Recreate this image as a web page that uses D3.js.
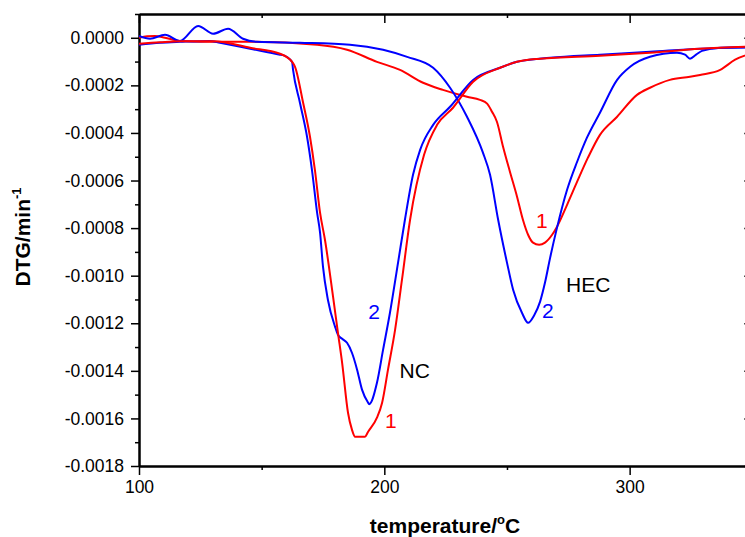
<!DOCTYPE html>
<html lang="en">
<head>
    <meta charset="UTF-8">
    <title>DTG curves</title>
    <script type="text/javascript" src="https://cdn.jsdelivr.net/npm/d3@7/dist/d3.min.js"></script>
    <style>
        body { margin: 0; background: #fff; }
        svg { display: block; font-family: "Liberation Sans", Arial, sans-serif; }
        .curve { fill: none; stroke-width: 2; }
        .axis path, .axis line { stroke: #000; }
        .axis path { stroke-width: 2; }
        .axis line { stroke-width: 1.5; }
        .axis text { font-size: 17.5px; fill: #000; font-family: "Liberation Sans", Arial, sans-serif; }
    </style>
</head>
<body>
    <svg width="745" height="537"></svg>
    <script type="text/javascript">
        // temperature (°C) and DTG values (in units of 1e-4 /min)
        var nc1T = [100, 108.6, 116.7, 130.2, 145.3, 157.5, 162.4, 163.6, 166.9, 169.7, 171.7, 173.8, 175.8, 179.1, 181.1, 182.8, 185.2, 186.8, 188.1, 192.1, 193.4, 197.0, 199.1, 201.5, 204.4, 207.2, 210.5, 216.2, 221.5, 228.0, 236.2, 247.2, 254.1, 263.5, 287.9, 308.3, 328.7, 350];
        var nc1V = [-0.25, -0.19, -0.15, -0.15, -0.42, -0.67, -1.01, -1.22, -2.73, -4.16, -5.55, -7.35, -8.49, -10.88, -12.40, -13.66, -15.76, -16.47, -16.77, -16.77, -16.56, -15.97, -15.34, -13.95, -12.27, -10.17, -7.65, -4.92, -3.66, -2.94, -1.85, -1.26, -1.01, -0.88, -0.76, -0.63, -0.46, -0.37];

        var nc2T = [100, 108.6, 116.7, 128.9, 133.0, 145.3, 157.5, 158.7, 162.4, 162.8, 165.6, 168.5, 170.5, 172.6, 173.8, 175.0, 177.0, 179.9, 181.1, 182.8, 184.8, 186.8, 188.9, 190.9, 193.4, 193.8, 197.0, 199.5, 202.3, 205.6, 208.4, 211.7, 214.6, 219.9, 226.8, 236.2, 247.2, 254.1, 267.6, 287.9, 308.3, 328.7, 350];
        var nc2V = [-0.29, -0.21, -0.17, -0.13, -0.21, -0.46, -0.71, -0.73, -1.01, -1.35, -2.73, -4.16, -5.55, -7.35, -8.19, -9.62, -11.01, -12.14, -12.48, -12.65, -12.82, -13.24, -13.95, -14.79, -15.34, -15.40, -14.50, -13.11, -11.56, -9.45, -7.65, -5.76, -4.71, -3.66, -2.90, -1.77, -1.26, -1.01, -0.84, -0.71, -0.59, -0.46, -0.40];

        var hec1T = [100, 103.3, 106.5, 110.6, 116.7, 133.0, 145.3, 172.6, 184.8, 197.0, 206.4, 215.8, 223.9, 233.7, 239.0, 241.9, 243.9, 245.9, 248.4, 251.2, 254.1, 256.5, 258.6, 260.6, 263.1, 265.5, 268.4, 270.4, 274.5, 278.6, 283.0, 287.9, 294.9, 303.0, 308.3, 316.4, 324.6, 328.7, 336.9, 343.0, 350];
        var hec1V = [0, 0.06, 0.08, 0, -0.13, -0.17, -0.17, -0.29, -0.50, -1.01, -1.35, -1.89, -2.19, -2.48, -2.61, -2.77, -3.11, -3.53, -4.58, -5.63, -6.68, -7.65, -8.28, -8.61, -8.70, -8.61, -8.28, -7.94, -7.02, -6.05, -5.04, -4.08, -3.32, -2.40, -2.10, -1.77, -1.64, -1.56, -1.35, -0.92, -0.65];

        var hec2T = [100, 104.5, 110.6, 116.7, 124.1, 130.2, 136.3, 142.4, 148.1, 165.6, 186.0, 199.5, 209.3, 219.9, 226.8, 233.7, 240.2, 243.1, 246.4, 250.0, 252.5, 256.1, 258.6, 261.0, 263.5, 265.5, 267.6, 270.4, 274.5, 278.6, 282.6, 287.9, 294.9, 300.2, 308.3, 319.3, 322.6, 324.6, 327.1, 329.5, 336.9, 350];
        var hec2V = [0.08, -0.04, 0.13, -0.13, 0.50, 0.17, 0.38, -0.04, -0.17, -0.21, -0.29, -0.50, -0.80, -1.26, -2.10, -3.32, -4.83, -5.76, -7.65, -9.45, -10.59, -11.56, -11.98, -11.68, -11.09, -10.29, -9.24, -7.98, -6.39, -5.21, -4.20, -3.15, -1.77, -1.22, -0.80, -0.63, -0.71, -0.88, -0.71, -0.55, -0.42, -0.40];

        var xTicks = [100, 200, 300];
        var xMinor = [150, 250, 350];
        var yTicks = [0, -0.0002, -0.0004, -0.0006, -0.0008, -0.0010, -0.0012, -0.0014, -0.0016, -0.0018];
        var yMinor = [0.0001, -0.0001, -0.0003, -0.0005, -0.0007, -0.0009, -0.0011, -0.0013, -0.0015, -0.0017];

        var labels = [
            {text: "1", T: 200.3, v: -16.40, color: "red"},
            {text: "2", T: 193.4, v: -11.82, color: "blue"},
            {text: "NC", T: 206.2, v: -14.30, color: "black"},
            {text: "1", T: 261.8, v: -8.00, color: "red"},
            {text: "2", T: 264.3, v: -11.78, color: "blue"},
            {text: "HEC", T: 274.1, v: -10.69, color: "black"}
        ];

        var genChart = function() {
            var svg = d3.select("svg");
            var mLeft = 139, mRight = 752.3, mTop = 14, mBottom = 466;

            var x = d3.scaleLinear().domain([100, 350]).range([mLeft, mRight]);
            var y = d3.scaleLinear().domain([-0.0018, 0.0001]).range([mBottom, mTop]);

            var fmt = function(d) { return Math.abs(d) < 1e-12 ? "0.0000" : d.toFixed(4); };

            // left axis
            svg.append("g").attr("class", "axis").attr("transform", "translate(" + mLeft + ",0)")
                .call(d3.axisLeft(y).tickValues(yMinor).tickSize(4).tickSizeOuter(0).tickFormat(""));
            svg.append("g").attr("class", "axis").attr("transform", "translate(" + mLeft + ",0)")
                .call(d3.axisLeft(y).tickValues(yTicks).tickSize(8).tickSizeOuter(0).tickPadding(7).tickFormat(fmt));

            // right axis (ticks point inward)
            svg.append("g").attr("class", "axis").attr("transform", "translate(" + mRight + ",0)")
                .call(d3.axisLeft(y).tickValues(yTicks).tickSize(8).tickSizeOuter(0).tickFormat(""));
            svg.append("g").attr("class", "axis").attr("transform", "translate(" + mRight + ",0)")
                .call(d3.axisLeft(y).tickValues(yMinor).tickSize(4).tickSizeOuter(0).tickFormat(""));

            // bottom axis
            svg.append("g").attr("class", "axis").attr("transform", "translate(0," + mBottom + ")")
                .call(d3.axisBottom(x).tickValues(xMinor).tickSize(4).tickSizeOuter(0).tickFormat(""));
            svg.append("g").attr("class", "axis").attr("transform", "translate(0," + mBottom + ")")
                .call(d3.axisBottom(x).tickValues(xTicks).tickSize(9).tickSizeOuter(0).tickPadding(6).tickFormat(d3.format("d")));

            // top axis (ticks point inward)
            svg.append("g").attr("class", "axis").attr("transform", "translate(0," + mTop + ")")
                .call(d3.axisBottom(x).tickValues(xTicks).tickSize(9).tickSizeOuter(0).tickFormat(""));
            svg.append("g").attr("class", "axis").attr("transform", "translate(0," + mTop + ")")
                .call(d3.axisBottom(x).tickValues(xMinor).tickSize(4).tickSizeOuter(0).tickFormat(""));

            var line = d3.line()
                .x(function(d) { return x(d[0]); })
                .y(function(d) { return y(d[1] * 1e-4); })
                .curve(d3.curveMonotoneX);

            var series = [
                {T: hec1T, V: hec1V, color: "#ff0000"},
                {T: hec2T, V: hec2V, color: "#0000ff"},
                {T: nc2T, V: nc2V, color: "#0000ff"},
                {T: nc1T, V: nc1V, color: "#ff0000"}
            ];

            svg.append("clipPath").attr("id", "plot")
                .append("rect").attr("x", mLeft).attr("y", mTop)
                .attr("width", mRight - mLeft).attr("height", mBottom - mTop);

            svg.append("g").attr("clip-path", "url(#plot)")
                .selectAll("path").data(series).enter().append("path")
                .attr("class", "curve")
                .attr("stroke", function(s) { return s.color; })
                .attr("d", function(s) { return line(s.T.map(function(t, i) { return [t, s.V[i]]; })); });

            svg.selectAll(".lab").data(labels).enter().append("text")
                .attr("class", "lab")
                .attr("x", function(d) { return x(d.T); })
                .attr("y", function(d) { return y(d.v * 1e-4); })
                .attr("fill", function(d) { return d.color; })
                .attr("font-size", "21px")
                .text(function(d) { return d.text; });

            // axis titles
            var xt = svg.append("text")
                .attr("x", 445).attr("y", 533)
                .attr("text-anchor", "middle")
                .attr("font-size", "21px").attr("font-weight", "bold");
            xt.append("tspan").text("temperature/");
            xt.append("tspan").attr("font-size", "13px").attr("dy", -9).text("o");
            xt.append("tspan").attr("dy", 9).text("C");

            var yt = svg.append("text")
                .attr("transform", "translate(30,237) rotate(-90)")
                .attr("text-anchor", "middle")
                .attr("font-size", "21px").attr("font-weight", "bold");
            yt.append("tspan").text("DTG/min");
            yt.append("tspan").attr("font-size", "13px").attr("dy", -9).text("-1");
        };

        genChart();
    </script>
</body>
</html>
